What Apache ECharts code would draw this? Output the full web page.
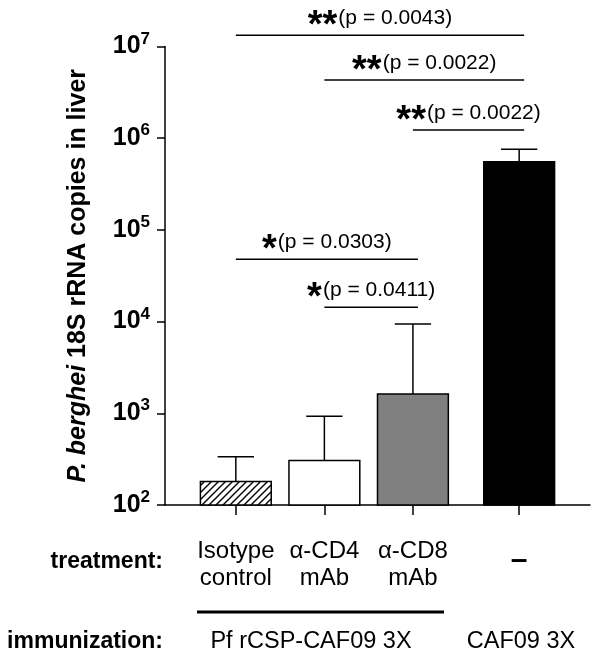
<!DOCTYPE html>
<html><head><meta charset="utf-8">
<script src="https://cdn.jsdelivr.net/npm/echarts@6/dist/echarts.min.js"></script>
<style>html,body{margin:0;padding:0;background:#fff}#c{width:601px;height:660px}</style>
</head><body><div id="c"></div>
<script>
// ---------- data ----------
const treatments = ['Isotype\ncontrol', 'α-CD4\nmAb', 'α-CD8\nmAb', '–'];
const immunizations = ['Pf rCSP-CAF09 3X', 'CAF09 3X'];
const meanCopies = [180, 305, 1620, 554000];
const errorUpper = [336, 927, 9420, 760000];
const yTicks = [1e2, 1e3, 1e4, 1e5, 1e6, 1e7];
const sigFrom = [0, 1, 2, 0, 1];
const sigTo = [3, 3, 3, 2, 2];
const sigLevel = [1.33e7, 4.3e6, 1.23e6, 4.8e4, 1.43e4];
const sigStars = ['**', '**', '**', '*', '*'];
const sigP = ['(p = 0.0043)', '(p = 0.0022)', '(p = 0.0022)', '(p = 0.0303)', '(p = 0.0411)'];

// ---------- layout / style ----------
const xPos = [1, 2, 3, 4.2];
const FONT = '"Liberation Sans", Arial, Helvetica, sans-serif';
const hatch = (function () {
  const c = document.createElement('canvas');
  c.width = 7; c.height = 7;
  const g = c.getContext('2d');
  g.fillStyle = '#fff'; g.fillRect(0, 0, 7, 7);
  g.strokeStyle = '#000'; g.lineWidth = 1.4;
  g.beginPath();
  g.moveTo(-1, 8); g.lineTo(8, -1);
  g.moveTo(-4, 4); g.lineTo(4, -4);
  g.moveTo(3, 11); g.lineTo(11, 3);
  g.stroke();
  return c;
})();
const barFills = [{ image: hatch, repeat: 'repeat' }, '#ffffff', '#808080', '#000000'];

const chart = echarts.init(document.getElementById('c'), null, { renderer: 'canvas' });

const barData = meanCopies.map((v, i) => [xPos[i], v, errorUpper[i], i]);
const sigData = sigFrom.map((f, i) => [f, sigTo[i], sigLevel[i], i]);

chart.setOption({
  animation: false,
  backgroundColor: '#fff',
  grid: { left: 165, top: 46.5, width: 425, height: 458.5, outerBoundsMode: 'none', containLabel: false },
  xAxis: {
    type: 'value', min: 0.2, max: 5,
    axisLine: { show: true, lineStyle: { color: '#000', width: 1.5 } },
    axisTick: { show: true, customValues: xPos, length: 10, lineStyle: { color: '#000', width: 1.5 } },
    axisLabel: {
      show: true, customValues: xPos, margin: 33, verticalAlign: 'top',
      color: '#000', fontFamily: FONT, fontSize: 24, lineHeight: 27,
      formatter: function (v) {
        let idx = xPos.findIndex(p => Math.abs(p - v) < 1e-6);
        if (idx < 0) return '';
        const t = treatments[idx];
        if (t === '–') return '{d|' + t + '}';
        return t;
      },
      rich: { d: { fontSize: 30, fontWeight: 'bold', fontFamily: FONT, color: '#000', padding: [18, 0, 0, 0] } }
    },
    splitLine: { show: false }
  },
  yAxis: {
    type: 'log', logBase: 10, min: 1e2, max: 1e7,
    axisLine: { show: true, lineStyle: { color: '#000', width: 1.5 } },
    axisTick: { show: true, length: 8, lineStyle: { color: '#000', width: 1.5 } },
    minorTick: { show: false },
    splitLine: { show: false },
    axisLabel: {
      margin: 15, color: '#000',
      formatter: function (v) {
        const e = Math.round(Math.log10(v));
        if (!yTicks.some(t => Math.abs(Math.log10(t) - e) < 1e-6)) return '';
        return '{b|10}{s|' + e + '}';
      },
      rich: {
        b: { fontSize: 25, fontWeight: 'bold', fontFamily: FONT, color: '#000', lineHeight: 32 },
        s: { fontSize: 17, fontWeight: 'bold', fontFamily: FONT, color: '#000', lineHeight: 17, verticalAlign: 'top' }
      }
    },
    name: '{i|P. berghei}{n| 18S rRNA copies in liver}',
    nameLocation: 'middle', nameGap: 74, nameRotate: 90,
    nameTextStyle: {
      rich: {
        i: { fontSize: 25, fontWeight: 'bold', fontStyle: 'italic', fontFamily: FONT, color: '#000' },
        n: { fontSize: 25, fontWeight: 'bold', fontFamily: FONT, color: '#000' }
      }
    }
  },
  series: [
    {
      type: 'custom', data: barData, clip: false, z: 2,
      renderItem: function (params, api) {
        const x = api.value(0), v = api.value(1), e = api.value(2), i = api.value(3);
        const l = api.coord([x - 0.4, v]), r = api.coord([x + 0.4, v]);
        const base = api.coord([x, 1e2]);
        const top = api.coord([x, v]);
        const cap = api.coord([x, e]);
        const cl = api.coord([x - 0.205, e]), cr = api.coord([x + 0.205, e]);
        return {
          type: 'group', children: [
            { type: 'line', shape: { x1: top[0], y1: top[1], x2: cap[0], y2: cap[1] }, style: { stroke: '#000', lineWidth: 1.5 } },
            { type: 'line', shape: { x1: cl[0], y1: cl[1], x2: cr[0], y2: cr[1] }, style: { stroke: '#000', lineWidth: 1.5 } },
            { type: 'rect', shape: { x: l[0], y: top[1], width: r[0] - l[0], height: base[1] - top[1] }, style: { fill: barFills[i], stroke: '#000', lineWidth: 1.5 } }
          ]
        };
      }
    },
    {
      type: 'custom', data: sigData, clip: false, z: 3,
      renderItem: function (params, api) {
        const f = api.value(0), t = api.value(1), lv = api.value(2), i = api.value(3);
        const a = api.coord([xPos[f], lv]), b = api.coord([xPos[t], lv]);
        return {
          type: 'group', children: [
            { type: 'line', shape: { x1: a[0], y1: a[1], x2: b[0] + 5, y2: b[1] }, style: { stroke: '#000', lineWidth: 1.5 } },
            {
              type: 'text', x: (a[0] + b[0] + 5) / 2, y: a[1] - 17,
              style: {
                text: '{s|' + sigStars[i] + '}{p|' + sigP[i] + '}',
                align: 'center', verticalAlign: 'middle',
                rich: {
                  s: { fontSize: 38, fontWeight: 'bold', fontFamily: FONT, fill: '#000', padding: [17, 1, 0, 0] },
                  p: { fontSize: 21, fontFamily: FONT, fill: '#000' }
                }
              }
            }
          ]
        };
      }
    }
  ],
  graphic: [
    { type: 'text', x: 163, y: 562, style: { text: 'treatment:', align: 'right', verticalAlign: 'middle', font: 'bold 23px ' + FONT, fill: '#000' } },
    { type: 'text', x: 163, y: 642, style: { text: 'immunization:', align: 'right', verticalAlign: 'middle', font: 'bold 23px ' + FONT, fill: '#000' } },
    { type: 'line', shape: { x1: 197, y1: 612, x2: 444, y2: 612 }, style: { stroke: '#000', lineWidth: 3 } },
    { type: 'text', x: 311, y: 642, style: { text: immunizations[0], align: 'center', verticalAlign: 'middle', font: '23.5px ' + FONT, fill: '#000' } },
    { type: 'text', x: 521, y: 642, style: { text: immunizations[1], align: 'center', verticalAlign: 'middle', font: '23.5px ' + FONT, fill: '#000' } }
  ]
});
</script></body></html>
